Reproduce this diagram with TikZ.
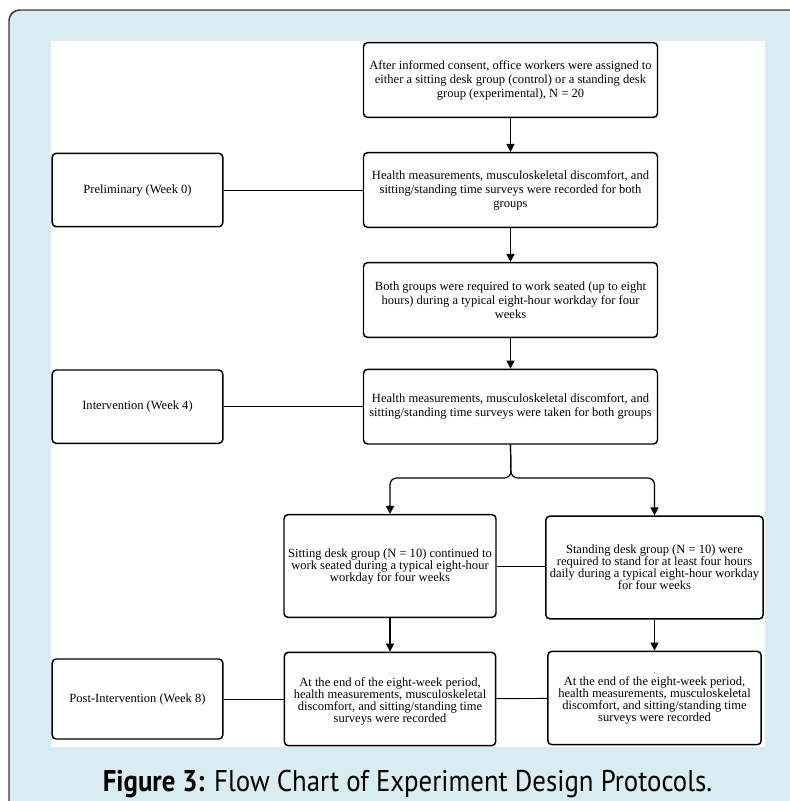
\documentclass[tikz,border=0pt]{standalone}
\usepackage{fontspec}
\usepackage{graphicx}
\setmainfont{Liberation Serif}
\newfontfamily\captionfont{PT Sans}
\usetikzlibrary{arrows.meta}
\definecolor{panelblue}{RGB}{216,236,241}
\definecolor{framegray}{RGB}{55,55,55}

\begin{document}
\begin{tikzpicture}[x=0.75pt, y=-0.75pt, node distance=82.5pt,
	stepbox/.style={draw, line width=1.1pt, rounded corners=3pt, align=center, inner sep=2pt, font=\fontsize{9.4pt}{10.5pt}\selectfont},
	mainbox/.style={stepbox, minimum width=220.5pt, minimum height=56pt},
	phasebox/.style={stepbox, minimum width=128pt, minimum height=55pt},
	groupbox/.style={stepbox, minimum height=77pt, font=\fontsize{9.4pt}{9pt}\selectfont},
	flow/.style={line width=0.9pt, -{Triangle[length=6pt,width=6pt]}},
	link/.style={line width=0.7pt}]
		\useasboundingbox (0,0) rectangle (790,801);
		\clip (0,0) rectangle (790,801);
		\draw[framegray, line width=1.1pt, fill=panelblue, rounded corners=8pt] (9,10) rectangle (830,840);
		\fill[white] (51,41) rectangle (765,747);

		\node[mainbox] (consent) at (510.5,80) {After informed consent, office workers were assigned to\\ either a sitting desk group (control) or a standing desk\\ group (experimental), N = 20};
		\node[mainbox, below of=consent] (week0) {Health measurements, musculoskeletal discomfort, and\\ sitting/standing time surveys were recorded for both\\ groups};
		\node[mainbox, below of=week0] (seated) {Both groups were required to work seated (up to eight\\ hours) during a typical eight-hour workday for four\\ weeks};
		\node[mainbox, below of=seated, node distance=80pt] (week4) {Health measurements, musculoskeletal discomfort, and\\ sitting/standing time surveys were taken for both groups};
		\node[phasebox, left of=week0, node distance=279.75pt] (prelim) {Preliminary (Week 0)};
		\node[phasebox, left of=week4, node distance=279.75pt] (interv) {Intervention (Week 4)};

		\node[groupbox, minimum width=159pt] (sitgroup) at (390,566) {Sitting desk group (N = 10) continued to\\ work seated during a typical eight-hour\\ workday for four weeks};
		\node[groupbox, minimum width=163pt] (standgroup) at (654.5,567.5) {Standing desk group (N = 10) were\\ required to stand for at least four hours\\ daily during a typical eight-hour workday\\ for four weeks};
		\node[groupbox, minimum width=158.5pt, minimum height=70pt, below of=sitgroup, node distance=99.75pt] (sitend) {{\tiny .}\\ At the end of the eight-week period,\\ health measurements, musculoskeletal\\ discomfort, and sitting/standing time\\ surveys were recorded};
		\node[groupbox, minimum width=160pt, minimum height=70pt, below of=standgroup, node distance=97.9pt] (standend) {{\tiny .}\\ At the end of the eight-week period,\\ health measurements, musculoskeletal\\ discomfort, and sitting/standing time\\ surveys were recorded};
		\node[phasebox, minimum height=60pt, left of=sitend, node distance=189.4pt] (post) {Post-Intervention (Week 8)};

		\coordinate (split) at (511,478);
		\draw[flow] (consent) -- (week0);
		\draw[flow] (week0) -- (seated);
		\draw[flow] (seated) -- (week4);
		\draw[link] (prelim) -- (week0);
		\draw[link] (interv) -- (week4);
		\draw[flow, rounded corners=5pt] (week4.south) -- (split) -| (sitgroup.north);
		\draw[flow, rounded corners=5pt] (week4.south) -- (split) -| (standgroup.north);
		\draw[link] (sitgroup.east) -- (sitgroup.east -| standgroup.west);
		\draw[flow] (sitgroup) -- (sitend);
		\draw[flow] (standgroup) -- (standend);
		\draw[link] (post) -- (sitend);
		\draw[link] (sitend) -- (standend);

		\node[anchor=base, font=\captionfont\fontsize{22.5pt}{27pt}\selectfont] (caption) at (407.5,791) {\resizebox{457pt}{\height}{\textbf{Figure 3:} Flow Chart of Experiment Design Protocols.}};
	\end{tikzpicture}
\end{document}
